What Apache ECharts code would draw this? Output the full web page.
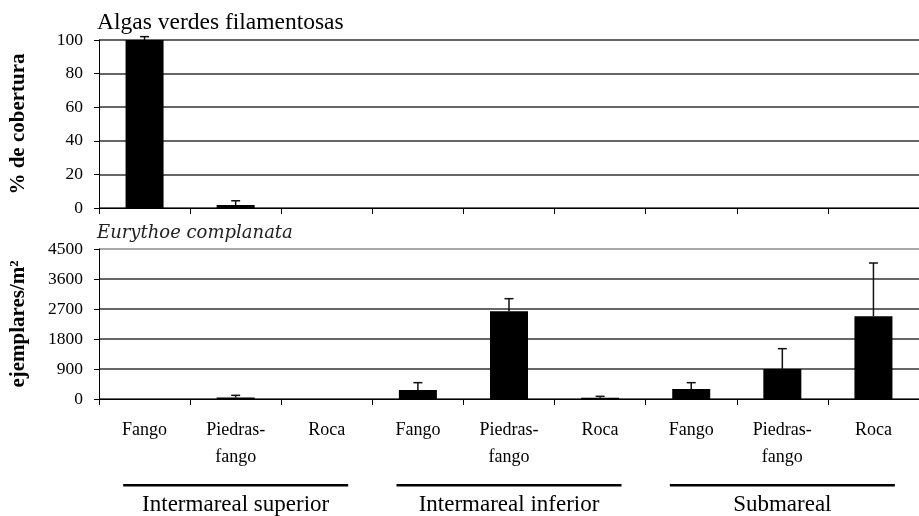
<!DOCTYPE html>
<html>
<head>
<meta charset="utf-8">
<script src="https://cdn.jsdelivr.net/npm/echarts@6/dist/echarts.min.js"></script>
<style>
  html, body { margin: 0; padding: 0; background: #fff; }
  #chart { width: 919px; height: 516px; }
</style>
</head>
<body>
<div id="chart"></div>
<script>
// Substrate types within each tidal zone
const categories = [
  'Fango', 'Piedras-\nfango', 'Roca',
  'Fango', 'Piedras-\nfango', 'Roca',
  'Fango', 'Piedras-\nfango', 'Roca'
];
const zones = ['Intermareal superior', 'Intermareal inferior', 'Submareal'];

// Filamentous green algae: % cover and its error
const algasCover = [100, 1.8, 0, 0, 0, 0, 0, 0, 0];
const algasError = [2, 2.5, 0, 0, 0, 0, 0, 0, 0];

// Eurythoe complanata: individuals per m² and its error
const euryDensity = [0, 45, 0, 270, 2630, 40, 300, 900, 2480];
const euryError = [0, 65, 0, 220, 380, 40, 190, 610, 1600];

// Axis ticks
const coverTicks = { min: 0, max: 100, interval: 20 };
const densityTicks = { min: 0, max: 4500, interval: 900 };

const serif = 'Liberation Serif';

// Upward-only error bar with a cap, drawn through the axis scales
function errorBar(values, errors) {
  return function (params, api) {
    const i = api.value(0);
    const v = values[i];
    const e = errors[i];
    if (!e) return null;
    const base = api.coord([i, v]);
    const top = api.coord([i, v + e]);
    const half = 4.5;
    const style = { stroke: '#111', lineWidth: 1.5 };
    return {
      type: 'group',
      children: [
        { type: 'line', shape: { x1: base[0], y1: base[1], x2: top[0], y2: top[1] }, style },
        { type: 'line', shape: { x1: top[0] - half, y1: top[1], x2: top[0] + half, y2: top[1] }, style }
      ]
    };
  };
}

function valueAxis(gridIndex, ticks, name, gridColors) {
  return {
    type: 'value',
    gridIndex,
    min: ticks.min,
    max: ticks.max,
    interval: ticks.interval,
    name,
    nameLocation: 'middle',
    nameRotate: 90,
    nameGap: 70,
    nameTextStyle: { fontFamily: serif, fontSize: 21, fontWeight: 'bold', color: '#000' },
    axisLine: { show: true, lineStyle: { color: '#000', width: 1 } },
    axisTick: { show: true, length: 5, lineStyle: { color: '#000', width: 1 } },
    axisLabel: { fontFamily: serif, fontSize: 17.5, color: '#000', margin: 16, formatter: (v) => String(v) },
    splitLine: { show: true, lineStyle: { color: gridColors, width: 1.5 } }
  };
}

const chart = echarts.init(document.getElementById('chart'), null, { renderer: 'canvas' });

chart.setOption({
  animation: false,
  backgroundColor: '#fff',
  title: [
    {
      text: 'Algas verdes filamentosas',
      left: 97, top: 11, padding: 0,
      textStyle: { fontFamily: serif, fontSize: 23.5, fontWeight: 'normal', color: '#000' }
    },
    {
      text: 'Eurythoe complanata',
      left: 97, top: 224, padding: 0,
      textStyle: { fontFamily: 'DejaVu Serif', fontStyle: 'italic', fontSize: 18, fontWeight: 'normal', color: '#222' }
    }
  ],
  grid: [
    { left: 98, top: 40, width: 826, height: 168 },
    { left: 98, top: 249, width: 826, height: 151 }
  ],
  xAxis: [
    {
      type: 'category', gridIndex: 0, data: categories,
      axisLine: { lineStyle: { color: '#000', width: 1 } },
      axisTick: { show: true, length: 6, lineStyle: { color: '#000' } },
      axisLabel: { show: false }
    },
    {
      type: 'category', gridIndex: 1, data: categories,
      axisLine: { lineStyle: { color: '#000', width: 1 } },
      axisTick: { show: true, length: 6, lineStyle: { color: '#000' } },
      axisLabel: { fontFamily: serif, fontSize: 18, lineHeight: 27, color: '#000', margin: 18, interval: 0 }
    },
    {
      type: 'category', gridIndex: 1, data: zones, position: 'bottom',
      axisLine: { show: false },
      axisTick: { show: false },
      axisLabel: {
        interval: 0,
        margin: 85,
        formatter: (v) => '{rule| }\n{zone|' + v + '}',
        rich: {
          rule: { width: 225, height: 2.5, lineHeight: 2.5, fontSize: 1, backgroundColor: '#000' },
          zone: { fontFamily: serif, fontSize: 23, lineHeight: 36, color: '#000' }
        }
      }
    }
  ],
  yAxis: [
    valueAxis(0, coverTicks, '% de cobertura', ['#333']),
    valueAxis(1, densityTicks, 'ejemplares/m²', ['#333', '#333', '#333', '#333', '#333', '#8a8a8a'])
  ],
  series: [
    {
      type: 'bar', xAxisIndex: 0, yAxisIndex: 0, data: algasCover,
      barWidth: 38, itemStyle: { color: '#000' }
    },
    {
      type: 'custom', xAxisIndex: 0, yAxisIndex: 0,
      data: algasCover.map((v, i) => [i, v]),
      renderItem: errorBar(algasCover, algasError), z: 5
    },
    {
      type: 'bar', xAxisIndex: 1, yAxisIndex: 1, data: euryDensity,
      barWidth: 38, itemStyle: { color: '#000' }
    },
    {
      type: 'custom', xAxisIndex: 1, yAxisIndex: 1,
      data: euryDensity.map((v, i) => [i, v]),
      renderItem: errorBar(euryDensity, euryError), z: 5
    }
  ]
});
</script>
</body>
</html>
